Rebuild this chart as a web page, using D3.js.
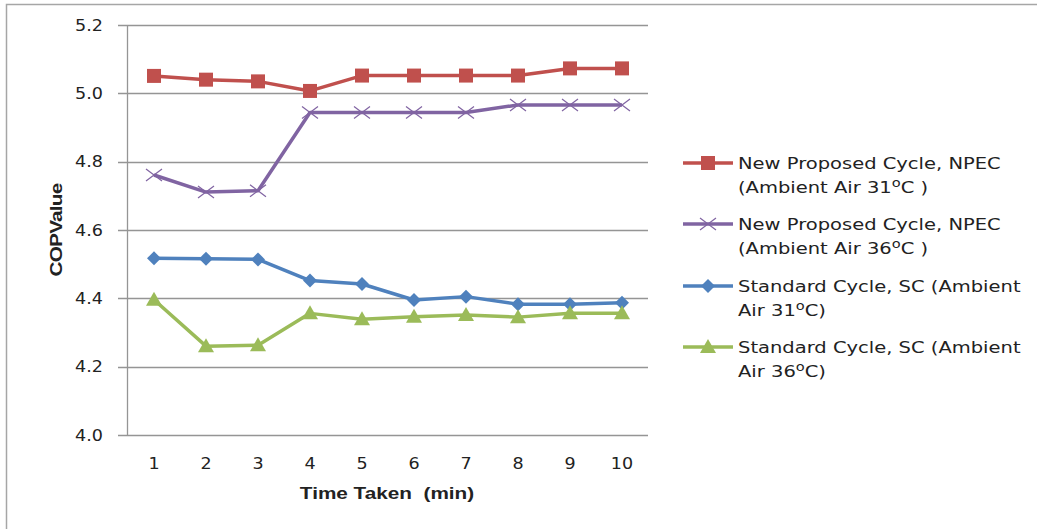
<!DOCTYPE html>
<html><head><meta charset="utf-8">
<script src="https://cdn.jsdelivr.net/npm/d3@7"></script>
<style>body{margin:0;background:#fff}svg{display:block}</style>
</head><body>
<svg id="c" width="1037" height="529"></svg>
<script>
const categories = ["1","2","3","4","5","6","7","8","9","10"];
const npec31 = [5.051, 5.040, 5.035, 5.007, 5.052, 5.052, 5.052, 5.052, 5.073, 5.073];
const npec36 = [4.761, 4.711, 4.715, 4.944, 4.944, 4.944, 4.944, 4.966, 4.966, 4.966];
const sc31   = [4.517, 4.516, 4.514, 4.452, 4.442, 4.395, 4.405, 4.383, 4.383, 4.387];
const sc36   = [4.396, 4.260, 4.263, 4.356, 4.339, 4.346, 4.351, 4.345, 4.356, 4.356];
const yTicks = [4.0, 4.2, 4.4, 4.6, 4.8, 5.0, 5.2];
const seriesNames = [
  ["New Proposed Cycle, NPEC", "(Ambient Air 31", "C )"],
  ["New Proposed Cycle, NPEC", "(Ambient Air 36", "C )"],
  ["Standard Cycle, SC (Ambient", "Air 31", "C)"],
  ["Standard Cycle, SC (Ambient", "Air 36", "C)"]
];
const colors = ["#C0504D", "#8064A2", "#4F81BD", "#9BBB59"];
const markers = ["square", "x", "diamond", "triangle"];
const seriesData = [npec31, npec36, sc31, sc36];

const svg = d3.select("#c");
const font = "'DejaVu Sans', sans-serif";
const bfont = "'Liberation Sans', Arial, sans-serif";
const txt = "#222";

svg.append("rect").attr("x", 6.5).attr("y", 4.5).attr("width", 1040).attr("height", 540)
  .attr("fill", "none").attr("stroke", "#a6a6a6").attr("stroke-width", 1.5);

const x = d3.scalePoint().domain(categories).range([128, 648]).padding(0.5);
const y = d3.scaleLinear().domain([4.0, 5.2]).range([435, 25]);

svg.append("g").selectAll("line").data(yTicks).join("line")
  .attr("x1", 118).attr("x2", 648)
  .attr("y1", d => Math.round(y(d)) + 0.5).attr("y2", d => Math.round(y(d)) + 0.5)
  .attr("stroke", "#959595").attr("stroke-width", 1.3);
svg.append("line").attr("x1", 127.5).attr("x2", 127.5).attr("y1", 25).attr("y2", 435.5)
  .attr("stroke", "#959595").attr("stroke-width", 1.3);

function stext(parent, tx, ty, sx, anchor, size, fam) {
  return parent.append("text")
    .attr("transform", `translate(${tx},${ty}) scale(${sx},1)`)
    .attr("text-anchor", anchor).attr("font-family", fam || font)
    .attr("font-size", size).attr("fill", txt);
}

yTicks.forEach(d => stext(svg, 103, y(d) + 5.5, 1.17, "end", 15).text(d.toFixed(1)));
categories.forEach(d => stext(svg, x(d), 469, 1.17, "middle", 15).text(d));

stext(svg, 387, 499, 1.22, "middle", 17, bfont).attr("font-weight", "bold")
  .attr("xml:space", "preserve").text("Time Taken  (min)");
svg.append("text").attr("transform", "translate(62,230) rotate(-90) scale(1.3,1)").attr("text-anchor", "middle")
  .attr("font-family", bfont).attr("font-weight", "bold")
  .attr("font-size", 16).attr("fill", txt).attr("letter-spacing", -0.6).text("COPValue");

function drawMarker(g, type, color, cx, cy) {
  if (type === "square") {
    g.append("rect").attr("x", cx - 7).attr("y", cy - 7).attr("width", 14).attr("height", 14).attr("fill", color);
  } else if (type === "diamond") {
    g.append("path").attr("d", `M${cx},${cy-7}L${cx+7},${cy}L${cx},${cy+7}L${cx-7},${cy}Z`).attr("fill", color);
  } else if (type === "triangle") {
    g.append("path").attr("d", `M${cx},${cy-8}L${cx+8},${cy+6}L${cx-8},${cy+6}Z`).attr("fill", color);
  } else if (type === "x") {
    g.append("path").attr("d", `M${cx-8},${cy-6}L${cx+8},${cy+6}M${cx-8},${cy+6}L${cx+8},${cy-6}`)
      .attr("stroke", color).attr("stroke-width", 1.2).attr("fill", "none");
  }
}

const line = d3.line().x((d, i) => x(categories[i])).y(d => y(d));
seriesData.forEach((data, s) => {
  const g = svg.append("g");
  g.append("path").datum(data).attr("d", line).attr("fill", "none")
    .attr("stroke", colors[s]).attr("stroke-width", 3.5).attr("stroke-linejoin", "round");
  data.forEach((v, i) => drawMarker(g, markers[s], colors[s], x(categories[i]), y(v)));
});

const legY = [163, 224, 286, 347];
seriesNames.forEach((nm, s) => {
  const g = svg.append("g");
  const ly = legY[s];
  g.append("line").attr("x1", 683).attr("x2", 733).attr("y1", ly).attr("y2", ly)
    .attr("stroke", colors[s]).attr("stroke-width", 3.5);
  drawMarker(g, markers[s], colors[s], 708, ly);
  stext(g, 738, ly + 6, 1.22, "start", 16).text(nm[0]);
  const t2 = stext(g, 738, ly + 30, 1.22, "start", 16).attr("xml:space", "preserve");
  t2.append("tspan").text(nm[1]);
  t2.append("tspan").attr("dy", -6).attr("font-size", 12).text("o");
  t2.append("tspan").attr("dy", 6).text(nm[2]);
});
</script>
</body></html>
